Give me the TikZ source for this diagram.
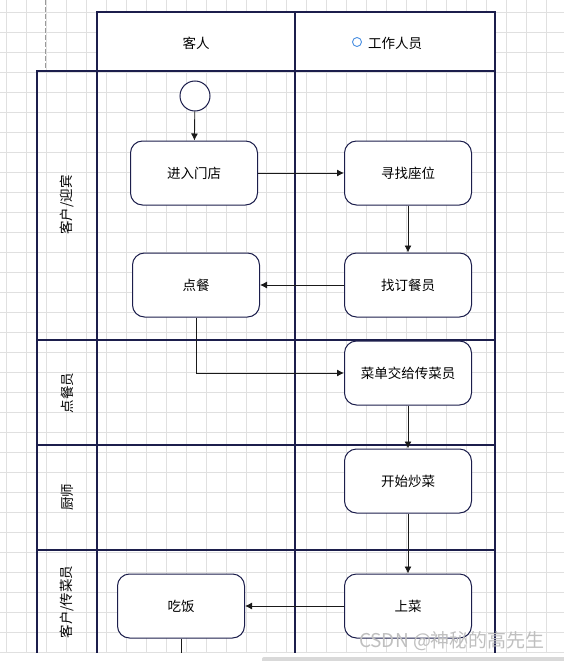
\documentclass[tikz,border=0pt]{standalone}
\usepackage{fontspec}
\setmainfont{Noto Sans CJK SC}
\usetikzlibrary{arrows.meta, calc}

\definecolor{lanenavy}{HTML}{1C1E4C}
\definecolor{gridgray}{HTML}{E0E0E0}
\definecolor{flowline}{HTML}{1A1A1A}
\definecolor{markblue}{HTML}{4A90E2}

\tikzset{
    act/.style={draw=lanenavy, line width=1pt, fill=white, rounded corners=12pt, minimum width=127pt, minimum height=64pt, font=\fontsize{13.5}{16}\selectfont},
    flow/.style={draw=flowline, line width=0.9pt, -{Latex[length=7pt, width=7pt]}},
    flowplain/.style={draw=flowline, line width=0.9pt},
    lane/.style={draw=lanenavy, line width=1.1pt},
    lanetext/.style={rotate=90, font=\fontsize{13.5}{16}\selectfont},
    headtext/.style={font=\fontsize{13.5}{16}\selectfont}
}

\begin{document}
\begin{tikzpicture}[x=1pt, y=-1pt]
    \useasboundingbox (0, 0) rectangle (564, 661);
    \fill[white] (0, 0) rectangle (564, 661);
    \foreach \gx in {6, 26, ..., 566}
        \draw[gridgray, line width=0.9pt] (\gx, 0) -- (\gx, 653);
    \foreach \gy in {12, 32, ..., 652}
        \draw[gridgray, line width=0.9pt] (0, \gy) -- (564, \gy);
    \draw[gray!80, line width=0.9pt, dash pattern=on 5pt off 2pt] (45, 0) -- (45, 71);

    \draw[lane, fill=white] (97, 12) rectangle (495, 71);
    \draw[lane] (295, 12) -- (295, 653);
    \draw[lane] (37, 653) -- (37, 71) -- (495, 71) -- (495, 653);
    \draw[lane] (97, 71) -- (97, 653);
    \foreach \ly in {340, 445, 550}
        \draw[lane] (37, \ly) -- (495, \ly);

    \node[headtext] (guest) at (196, 43) {客人};
    \node[headtext] (staff) at (395, 43) {工作人员};
    \node[draw=markblue, circle, line width=0.9pt, minimum size=9pt, inner sep=0pt] (staffmark) at (357, 42) {};

    \node[lanetext] (lanegreet) at (67, 205) {客户/迎宾};
    \node[lanetext] (laneorder) at (67, 393) {点餐员};
    \node[lanetext] (lanecook) at (67, 497) {厨师};
    \node[lanetext] (laneserve) at (67, 602) {客户/传菜员};

    \node[draw=lanenavy, line width=1pt, fill=white, circle, minimum size=30pt, inner sep=0pt] (start) at (195, 96) {};
    \node[act] (enter) at (194, 173) {进入门店};
    \node[act] (seat) at (408, 173) {寻找座位};
    \node[act] (waiter) at (408, 285) {找订餐员};
    \node[act] (order) at (196, 285) {点餐};
    \node[act] (menu) at (408, 373) {菜单交给传菜员};
    \node[act] (cook) at (408, 481) {开始炒菜};
    \node[act] (serve) at (408, 606) {上菜};
    \node[act] (eat) at (181, 606) {吃饭};
    \coordinate (eatend) at (181, 653);

    \draw[flow] (start) -- (enter);
    \draw[flow] (enter) -- (seat);
    \draw[flow] (seat) -- (waiter);
    \draw[flow] (waiter) -- (order);
    \draw[flow] (order.south) |- (menu.west);
    \draw[flow] (menu) -- (cook);
    \draw[flow] (cook) -- (serve);
    \draw[flow] (serve) -- (eat);
    \draw[flowplain] (eat) -- (eatend);

    \node[text=gray!50, font=\fontsize{19}{22}\selectfont, inner sep=0pt] (mark) at (452, 641) {CSDN @神秘的高先生};

    \fill[white] (0, 653) rectangle (564, 661);
    \fill[gray!30, rounded corners=2pt] (262, 657) rectangle (570, 665);
\end{tikzpicture}
\end{document}
